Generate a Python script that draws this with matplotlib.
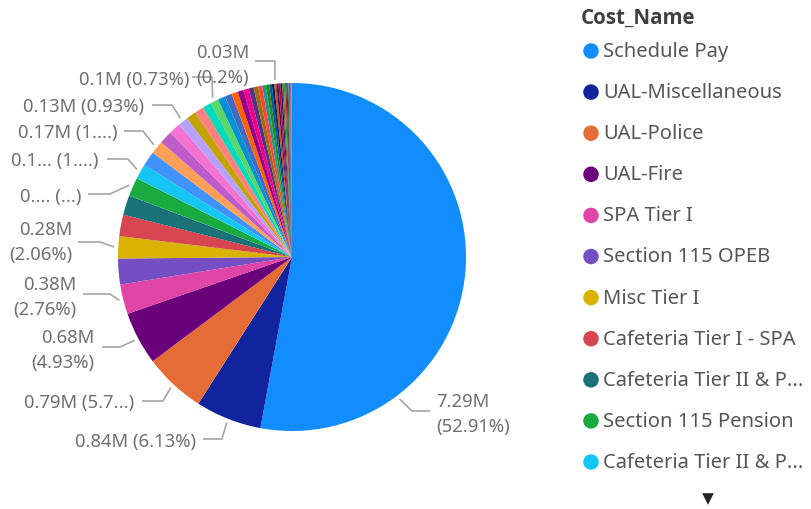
import matplotlib.pyplot as plt
import numpy as np

# Cost amounts in millions, ordered largest first (clockwise from 12 o'clock)
cost_values = [
    7.290, 0.845, 0.790, 0.679, 0.380, 0.330, 0.284, 0.275, 0.250, 0.240,
    0.193, 0.186, 0.172, 0.165, 0.150, 0.128, 0.125, 0.120, 0.112, 0.101,
    0.096, 0.090, 0.080, 0.075, 0.069, 0.064, 0.058, 0.052, 0.047, 0.042,
    0.035, 0.030, 0.028, 0.026, 0.024, 0.022, 0.020, 0.018, 0.016, 0.014,
    0.012, 0.010, 0.009, 0.008, 0.007, 0.005, 0.004, 0.002,
]
legend_names = [
    "Schedule Pay", "UAL-Miscellaneous", "UAL-Police", "UAL-Fire", "SPA Tier I",
    "Section 115 OPEB", "Misc Tier I", "Cafeteria Tier I - SPA",
    "Cafeteria Tier II & P...", "Section 115 Pension", "Cafeteria Tier II & P...",
]
palette = [
    "#118DFF", "#12239E", "#E66C37", "#6B007B", "#E044A7", "#744EC2", "#D9B300",
    "#D64550", "#197278", "#1AAB40", "#15C6F4", "#4092FF", "#FFA058", "#BE5DC9",
    "#F472D0", "#B5A1FF", "#C4A200", "#FF8080", "#00DBBC", "#5BD667", "#0091D5",
    "#4668C5", "#FF6300", "#99008A", "#EC008C", "#533285", "#99700A", "#FF4141",
    "#1F9A85", "#25891C", "#0057A2", "#002050", "#C94F0F", "#450F54", "#B60064",
    "#34124F", "#6A5A29", "#1AAB40", "#BA141A", "#0C3D37", "#0B511F",
]

# labelled slices: index, chars kept of value / percent (None = full), two lines,
# text anchor, alignment, elbow and end of leader, position along slice
label_layout = [
    (0, None, None, True, (436, 415), "left", (412, 412), (430, 412), 0.75),
    (1, None, None, False, (196, 442), "right", (222, 440), (203, 440), 0.5),
    (2, None, 3, False, (134, 403), "right", (163, 402), (142, 402), 0.5),
    (3, None, None, True, (94, 351), "right", (120, 348), (102, 348), 0.5),
    (4, None, None, True, (76, 298), "right", (110, 295), (83, 295), 0.5),
    (6, None, None, True, (72, 243), "right", (100, 243), (78, 243), 0.5),
    (9, 2, 0, False, (81, 197), "right", (110, 195), (88, 195), 0.5),
    (10, 3, 2, False, (98, 161), "right", (128, 160), (107, 160), 0.5),
    (12, None, 2, False, (118, 133), "right", (143, 132), (124, 132), 0.5),
    (15, None, None, False, (144, 107), "right", (172, 106), (152, 106), 0.5),
    (19, None, None, False, (189, 80), "right", (212, 78), (192, 78), 0.5),
    (32, None, None, True, (249, 65), "right", (275, 62), (255, 62), 0.5),
]

FONT = "Noto Sans"
LABEL_GREY = "#707070"
LINE_GREY = "#A6A6A6"


def fmt(v):
    return f"{v:.2f}".rstrip("0").rstrip(".")


def clip(s, n):
    if n is None or len(s) <= n:
        return s
    return s[:n] + "..."


values = np.asarray(cost_values)
total = values.sum()
colors = [palette[i % len(palette)] for i in range(len(values))]

fig = plt.figure(figsize=(8.12, 5.10), dpi=100)
ax = fig.add_axes([0, 0, 1, 1])

cx, cy, r = 292, 258, 174
ax.pie(values, colors=colors, startangle=-90, counterclock=True,
       center=(cx, cy), radius=r, wedgeprops=dict(linewidth=0))
ax.set_xlim(0, 812)
ax.set_ylim(510, 0)
ax.set_aspect("equal")
ax.axis("off")

# data labels with leader lines
cum = np.concatenate([[0], np.cumsum(values)]) / total
for idx, nv, npct, two, (tx, ty), ha, elbow, end, frac in label_layout:
    pos = cum[idx] + frac * (cum[idx + 1] - cum[idx])
    ang = -np.pi / 2 + 2 * np.pi * pos
    sx, sy = cx + (r + 4) * np.cos(ang), cy + (r + 4) * np.sin(ang)
    ax.plot([sx, elbow[0], end[0]], [sy, elbow[1], end[1]],
            color=LINE_GREY, lw=1.2, solid_capstyle="butt")
    vtxt = clip(fmt(values[idx]) + "M", nv)
    ptxt = clip(fmt(values[idx] / total * 100) + "%", npct)
    sep = "\n" if two else " "
    ax.text(tx, ty, f"{vtxt}{sep}({ptxt})", ha=ha, va="center", fontsize=13.3,
            color=LABEL_GREY, family=FONT, linespacing=1.5)

# legend
ax.text(581, 18, "Cost_Name", ha="left", va="center", fontsize=14.8,
        fontweight="bold", color="#404040", family="Open Sans")
for i, name in enumerate(legend_names):
    y = 52 + i * 41.1
    ax.scatter([591], [y], s=125, color=colors[i], edgecolors="none")
    ax.text(603, y, name, ha="left", va="center", fontsize=14.5,
            color="#555555", family=FONT)
ax.scatter([708], [500], marker="v", s=70, color="#252423", edgecolors="none")

fig.savefig("out.png", dpi=100)
